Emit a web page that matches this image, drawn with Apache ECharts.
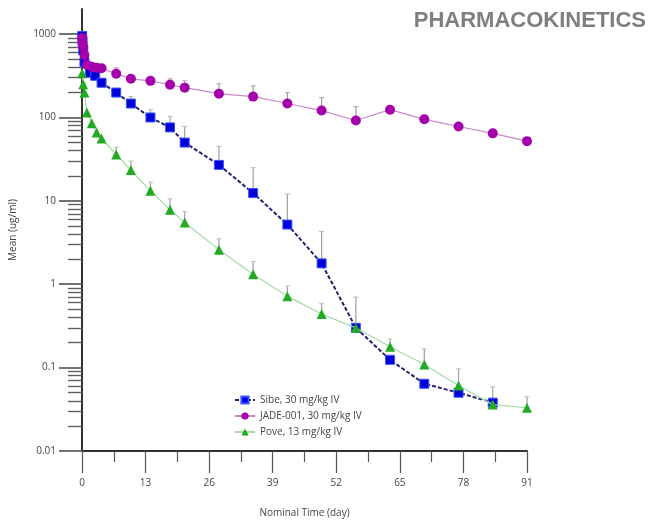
<!DOCTYPE html>
<html>
<head>
<meta charset="utf-8">
<script src="https://cdn.jsdelivr.net/npm/echarts@6/dist/echarts.min.js"></script>
<style>
  html, body { margin: 0; padding: 0; background: #fff; }
  #chart { width: 653px; height: 523px; }
</style>
</head>
<body>
<div id="chart"></div>
<script>
// mean concentration (ug/ml) vs nominal time (day)
const sibeTime = [0.04, 0.1, 0.25, 0.5, 1.6, 2.7, 4, 7, 10, 14, 18, 21, 28, 35, 42, 49, 56, 63, 70, 77, 84];
const sibeMean = [950, 820, 640, 460, 343, 316, 261, 199, 147, 100, 76, 50, 27, 12.4, 5.2, 1.78, 0.30, 0.124, 0.064, 0.050, 0.038];
const sibeErrTime = [7, 10, 14, 18, 21, 28, 35, 42, 49, 56];
const sibeUpper = [215, 178, 124, 103, 78, 45, 25, 12.1, 4.3, 0.70];

const jadeTime = [0.04, 0.1, 0.25, 0.5, 1, 2, 3, 4, 7, 10, 14, 18, 21, 28, 35, 42, 49, 56, 63, 70, 77, 84, 91];
const jadeMean = [900, 800, 700, 560, 430, 405, 395, 390, 334, 291, 275, 247, 228, 193, 178, 147, 121, 92, 124, 95, 78, 64.5, 52];
const jadeErrTime = [7, 14, 18, 21, 28, 35, 42, 49, 56];
const jadeUpper = [394, 300, 291, 275, 254, 240, 199, 173, 135];

const poveTime = [0.04, 0.25, 0.5, 1, 2, 3, 4, 7, 10, 14, 18, 21, 28, 35, 42, 49, 56, 63, 70, 77, 84, 91];
const poveMean = [340, 250, 200, 115, 85, 66, 56, 36, 23.4, 13.2, 7.8, 5.5, 2.6, 1.32, 0.72, 0.44, 0.30, 0.178, 0.109, 0.061, 0.036, 0.033];
const poveErrTime = [7, 10, 14, 18, 21, 28, 35, 42, 49, 63, 70, 77, 84, 91];
const poveUpper = [44, 30, 16.8, 10.6, 7.4, 3.5, 1.88, 0.95, 0.59, 0.22, 0.168, 0.097, 0.059, 0.045];

const xTicks = [0, 13, 26, 39, 52, 65, 78, 91];
const yTicks = [0.01, 0.1, 1, 10, 100, 1000];
const seriesNames = ['Sibe, 30 mg/kg IV', 'JADE-001, 30 mg/kg IV', 'Pove, 13 mg/kg IV'];

// minor log ticks 2..9 inside every decade
const yMinor = [];
yTicks.slice(0, -1).forEach(d => { for (let k = 2; k <= 9; k++) yMinor.push(+(d * k).toPrecision(3)); });

const zip = (a, b) => a.map((t, i) => [t, b[i]]);
const errData = (times, mean, meanTimes, upper) =>
  times.map((t, i) => [t, mean[meanTimes.indexOf(t)], upper[i]]);

function errBar(capColor) {
  return function (params, api) {
    const p0 = api.coord([api.value(0), api.value(1)]);
    const p1 = api.coord([api.value(0), api.value(2)]);
    return {
      type: 'group',
      children: [
        { type: 'line', shape: { x1: p0[0], y1: p0[1], x2: p1[0], y2: p1[1] },
          style: { stroke: '#a0a0a0', lineWidth: 1.2 } },
        { type: 'line', shape: { x1: p1[0] - 2.5, y1: p1[1], x2: p1[0] + 2.5, y2: p1[1] },
          style: { stroke: capColor, lineWidth: 1.2 } }
      ]
    };
  };
}

const font = '"Open Sans", "DejaVu Sans", sans-serif';
const chart = echarts.init(document.getElementById('chart'));
chart.setOption({
  animation: false,
  backgroundColor: '#fff',
  title: {
    text: 'PHARMACOKINETICS',
    right: 2, top: 5,
    textStyle: { fontSize: 22, fontWeight: 'bold', color: '#7f7f7f', fontFamily: '"Liberation Sans", Arial, sans-serif' }
  },
  legend: {
    orient: 'vertical',
    left: 229, top: 390,
    itemWidth: 20, itemHeight: 9, itemGap: 6,
    data: seriesNames,
    textStyle: { fontSize: 10, color: '#444', fontFamily: font }
  },
  grid: { left: 81, right: 126, top: 9, bottom: 69 },
  xAxis: {
    type: 'value',
    min: 0, max: 91, interval: 13,
    name: 'Nominal Time (day)',
    nameLocation: 'middle', nameGap: 57,
    nameTextStyle: { fontSize: 10, color: '#444', fontFamily: font },
    axisLine: { lineStyle: { color: '#333', width: 2 } },
    axisTick: { length: 22, lineStyle: { color: '#555', width: 1.2 } },
    minorTick: { show: true, splitNumber: 2, length: 11, lineStyle: { color: '#555', width: 1.2 } },
    axisLabel: { margin: 27, fontSize: 10, color: '#444', fontFamily: font, customValues: xTicks },
    splitLine: { show: false }
  },
  yAxis: [{
    type: 'log', logBase: 10,
    min: 0.01, max: 2000,
    name: 'Mean (ug/ml)',
    nameLocation: 'middle', nameGap: 64,
    nameTextStyle: { fontSize: 10, color: '#444', fontFamily: font },
    axisLine: { lineStyle: { color: '#333', width: 2 } },
    axisTick: { show: true, length: 23, customValues: yTicks, lineStyle: { color: '#505050', width: 1.6 } },
    axisLabel: { margin: 26, fontSize: 10, color: '#444', fontFamily: font, customValues: yTicks,
      formatter: v => String(v) },
    splitLine: { show: false }
  }, {
    type: 'log', logBase: 10,
    min: 0.01, max: 2000,
    position: 'left',
    axisLine: { show: false },
    axisTick: { show: true, length: 14, customValues: yMinor, lineStyle: { color: '#606060', width: 1.4 } },
    axisLabel: { show: false },
    splitLine: { show: false }
  }],
  series: [
    { type: 'custom', renderItem: errBar('#c0c0c0'), data: errData(sibeErrTime, sibeMean, sibeTime, sibeUpper),
      encode: { x: 0, y: [1, 2] }, z: 1, silent: true },
    { type: 'custom', renderItem: errBar('#d49ad4'), data: errData(jadeErrTime, jadeMean, jadeTime, jadeUpper),
      encode: { x: 0, y: [1, 2] }, z: 1, silent: true },
    { type: 'custom', renderItem: errBar('#b0d8b0'), data: errData(poveErrTime, poveMean, poveTime, poveUpper),
      encode: { x: 0, y: [1, 2] }, z: 1, silent: true },
    {
      name: seriesNames[0], type: 'line', data: zip(sibeTime, sibeMean), z: 3,
      symbol: 'rect', symbolSize: 9, showAllSymbol: true,
      lineStyle: { color: '#24246e', width: 2, type: [4, 2] },
      itemStyle: { color: '#0000d8', borderColor: '#3a55ff', borderWidth: 1 }
    },
    {
      name: seriesNames[1], type: 'line', data: zip(jadeTime, jadeMean), z: 3,
      symbol: 'circle', symbolSize: 10, showAllSymbol: true,
      lineStyle: { color: '#c888c8', width: 1.2 },
      itemStyle: { color: '#a400ac' }
    },
    {
      name: seriesNames[2], type: 'line', data: zip(poveTime, poveMean), z: 4,
      symbol: 'triangle', symbolSize: 10, showAllSymbol: true,
      lineStyle: { color: '#a3dba3', width: 1.2 },
      itemStyle: { color: '#22aa22' }
    }
  ]
});
</script>
</body>
</html>
